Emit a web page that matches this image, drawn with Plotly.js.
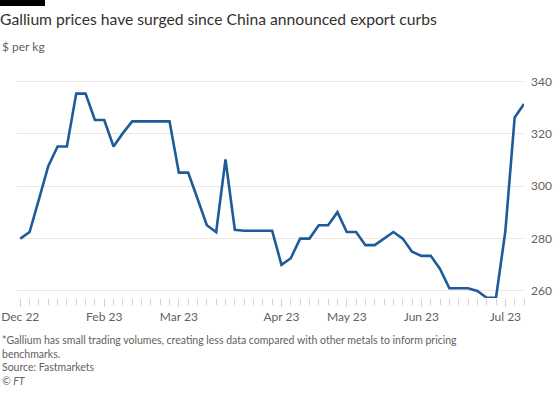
<!DOCTYPE html>
<html>
<head>
<meta charset="utf-8">
<script src="https://cdn.plot.ly/plotly-3.0.1.min.js"></script>
<style>
  html, body { margin: 0; padding: 0; background: #ffffff; }
  #chart { width: 555px; height: 397px; }
</style>
</head>
<body>
<div id="chart"></div>
<script>
// Gallium price, $ per kg (twice-weekly assessments)
const priceUSDperKg = [
  280, 282.5, 295, 307.7, 315.2, 315.2, 335.4, 335.4, 325.3, 325.3,
  315.2, 320.3, 324.8, 324.8, 324.8, 324.8, 324.8, 305.2, 305.2, 295.2,
  285.1, 282.5, 310.3, 283.4, 283, 283, 283, 283, 270, 272.5,
  280, 280, 285.1, 285.1, 290.1, 282.5, 282.5, 277.5, 277.5, 280,
  282.5, 280, 275, 273.4, 273.4, 268.4, 261, 261, 261, 260,
  257.4, 257.4, 282.8, 326.3, 331.4
];
const pointIndex = priceUSDperKg.map((_, i) => i);
const monthTickIndex = [0, 9, 17, 28, 35, 43, 52];
const monthTickLabels = ["Dec 22", "Feb 23", "Mar 23", "Apr 23", "May 23", "Jun 23", "Jul 23"];
const yTicks = [260, 280, 300, 320, 340];

const FONT = "Lato, Open Sans, sans-serif";
const GREY = "#66605c";
const W = 555, H = 397, L = 17, R = 31, T = 80, B = 99;
const plotW = W - L - R, plotH = H - T - B;
const px = v => v / plotW; // pixels -> paper units (x)
const py = v => v / plotH; // pixels -> paper units (y)

const trace = {
  x: pointIndex,
  y: priceUSDperKg,
  type: "scatter",
  mode: "lines",
  line: { color: "#1d5b9a", width: 2.6, shape: "linear" },
  hoverinfo: "skip"
};

const layout = {
  width: W,
  height: H,
  paper_bgcolor: "#ffffff",
  plot_bgcolor: "#ffffff",
  margin: { l: L, r: R, t: T, b: B, pad: 0 },
  showlegend: false,
  font: { family: FONT, color: GREY, size: 12 },
  title: {
    text: "Gallium prices have surged since China announced export curbs",
    font: { family: FONT, size: 15.7, color: "#33302e" },
    xref: "container", yref: "container",
    x: 0, xanchor: "left",
    y: 1 - 20 / H, yanchor: "middle",
    pad: { l: 0, t: 0 }
  },
  xaxis: {
    range: [-0.35, 54],
    showgrid: false,
    zeroline: false,
    showline: false,
    tickmode: "array",
    tickvals: monthTickIndex,
    ticktext: monthTickLabels,
    ticks: "outside",
    ticklen: 8,
    tickcolor: "#d9cfc5",
    tickwidth: 1,
    tickfont: { family: FONT, size: 12, color: GREY },
    minor: { tickmode: "linear", tick0: 0, dtick: 1, ticks: "outside", ticklen: 6, tickcolor: "#d9cfc5", tickwidth: 1, showgrid: false },
    fixedrange: true
  },
  yaxis: {
    side: "right",
    range: [257.3, 340.6],
    tickmode: "array",
    tickvals: yTicks,
    ticktext: yTicks.map(String),
    showgrid: true,
    gridcolor: "#efe7df",
    gridwidth: 1,
    zeroline: false,
    showline: false,
    ticks: "",
    ticklabelstandoff: 6,
    tickfont: { family: FONT, size: 12, color: GREY },
    fixedrange: true
  },
  shapes: [
    { type: "rect", layer: "above", xref: "paper", yref: "paper",
      x0: px(-L), x1: px(-L + 45), y0: 1 + py(T - 6), y1: 1 + py(T + 2),
      fillcolor: "#000000", line: { width: 0 } }
  ],
  annotations: [
    { text: "$ per kg", xref: "paper", yref: "paper", x: px(-L), xanchor: "left", y: 1 + py(34), yanchor: "middle",
      showarrow: false, font: { family: FONT, size: 12, color: GREY } },
    { text: "*Gallium has small trading volumes, creating less data compared with other metals to inform pricing<br>benchmarks.<br>Source: Fastmarkets<br><i>© FT</i>",
      xref: "paper", yref: "paper", x: px(-L), xanchor: "left", align: "left", y: -py(332 - (H - B)), yanchor: "top",
      showarrow: false, font: { family: FONT, size: 10.5, color: GREY } }
  ]
};

Plotly.newPlot("chart", [trace], layout, { displayModeBar: false, staticPlot: true });
</script>
</body>
</html>
